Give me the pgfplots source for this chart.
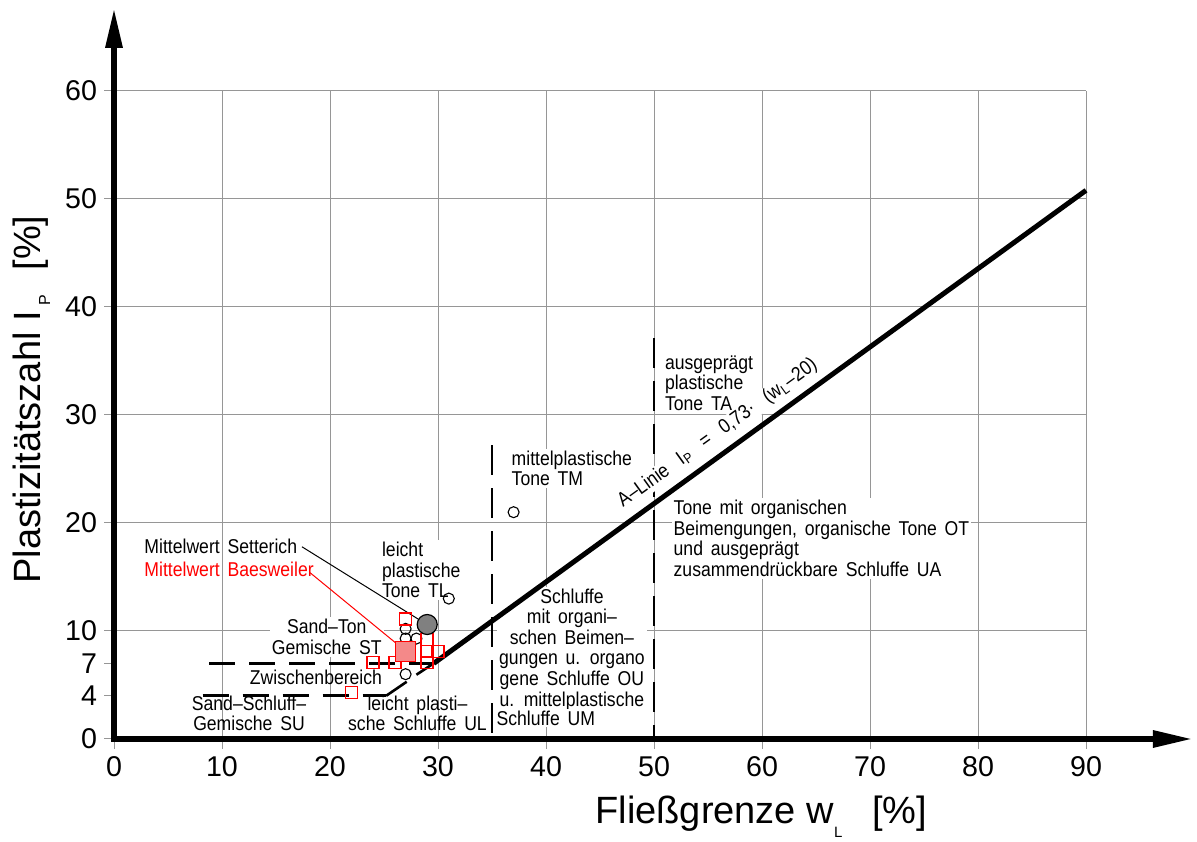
\documentclass[border=0pt]{standalone}
\usepackage{fontspec}
\setmainfont{Liberation Sans}
\newfontfamily\cad[FakeStretch=0.88,WordSpace=1.6]{Liberation Sans}
\usepackage{pgfplots}
\pgfplotsset{compat=1.18}
\usetikzlibrary{arrows.meta}
\definecolor{gridgray}{RGB}{150,150,150}
\definecolor{pinkfill}{RGB}{244,137,137}
\definecolor{meangray}{RGB}{128,128,128}
\tikzset{cadtext/.style={font=\fontsize{10}{10.3}\cad, inner sep=1pt}}
\begin{document}
\begin{tikzpicture}
\begin{axis}[
  scale only axis, width=486pt, height=324pt,
  xmin=0, xmax=90, ymin=0, ymax=60,
  axis line style={draw=none},
  clip=false,
  xtick={0,10,...,90},
  ytick={0,10,...,60},
  extra y ticks={4,7},
  extra y tick style={grid=none},
  xmajorgrids, ymajorgrids,
  grid style={gridgray, line width=0.5pt},
  tick align=outside,
  major tick length=5pt,
  tick style={gridgray, line width=0.5pt},
  xtick pos=left, ytick pos=left,
  /pgf/number format/assume math mode=true,
  ticklabel style={font=\fontsize{14.3}{16}\selectfont},
]
% text labels (white background hides grid)
\node[cadtext, anchor=west] at (axis cs:2.6,17.8) {Mittelwert Setterich};
\node[cadtext, anchor=west, text=red] at (axis cs:2.6,15.7) {Mittelwert Baesweiler};
\node[cadtext, anchor=west, align=left, fill=white] at (axis cs:24.6,15.65) {leicht\\plastische\\Tone TL};
\node[cadtext, align=center, fill=white] at (axis cs:19.7,9.44) {Sand–Ton\\Gemische ST};
\node[cadtext] at (axis cs:18.7,5.74) {Zwischenbereich};
\node[cadtext, align=center] at (axis cs:12.5,2.36) {Sand–Schluff–\\Gemische SU};
\node[cadtext, align=center] at (axis cs:28.1,2.36) {leicht plasti–\\sche Schluffe UL};
\node[cadtext, anchor=west, align=left, fill=white] at (axis cs:36.6,25.05) {mittelplastische\\Tone TM};
\node[cadtext, align=center, fill=white] at (axis cs:42.4,8.3) {Schluffe\\mit organi–\\schen Beimen–\\gungen u. organo\\gene Schluffe OU\\u. mittelplastische};
\node[cadtext, anchor=west, fill=white] at (axis cs:35.2,1.94) {Schluffe UM};
\node[cadtext, anchor=west, align=left, fill=white] at (axis cs:50.8,32.96) {ausgeprägt\\plastische\\Tone TA};
\node[cadtext, anchor=west, align=left, fill=white] at (axis cs:51.6,18.56) {Tone mit organischen\\Beimengungen, organische Tone OT\\und ausgeprägt\\zusammendrückbare Schluffe UA};

% boundary lines
\addplot[black, line width=1.5pt, dash pattern=on 13pt off 7pt] coordinates {(8.8,7) (29.6,7)};
\addplot[black, line width=1.5pt, dash pattern=on 13pt off 7pt] coordinates {(8.2,4) (25.2,4)};
\addplot[black, line width=1.4pt, dash pattern=on 15pt off 6.5pt] coordinates {(35,27.2) (35,0)};
\addplot[black, line width=1.4pt, dash pattern=on 15pt off 6.5pt] coordinates {(50,37.1) (50,0)};

% A-line label (covers the dashed line behind it)
\node[cadtext, rotate=35.7, fill=white, inner sep=0.5pt] at (axis cs:55.9,28.3)
  {A–Linie\hspace{3pt} I\textsubscript{P}\hspace{3pt} =\hspace{3pt} 0,73·\hspace{3pt} (w\textsubscript{L}–20)};

\addplot[black, line width=1.3pt] coordinates {(25.2,4) (27.1,5.3)};
\addplot[black, line width=1.3pt] coordinates {(28.0,5.95) (29.6,7)};
\addplot[black, line width=2.5pt] coordinates {(29.6,7) (90,50.8)};

% leader lines
\addplot[black, line width=0.5pt] coordinates {(17.4,17.8) (28.33,11.0)};
\addplot[red, line width=0.5pt] coordinates {(18.15,15.4) (26.2,8.8)};

% data: Setterich (circles)
\addplot[only marks, mark=o, mark size=2.75pt, mark options={black, line width=0.55pt}]
  coordinates {(27,10.2) (27,9.3) (28,9.3) (27,6) (31,13) (37,21)};
% data: Baesweiler (squares)
\addplot[only marks, mark=square, mark size=3pt, mark options={red, line width=0.8pt}]
  coordinates {(27,11.1) (29,9.2) (29,8.1) (30,8.1) (24,7.1) (26,7.1) (29,7.1) (22,4.3)};
% means
\addplot[only marks, mark=square*, mark size=5pt, mark options={draw=red, fill=pinkfill, line width=0.6pt}]
  coordinates {(27,8.1)};
\addplot[only marks, mark=*, mark size=5pt, mark options={draw=black, fill=meangray, line width=0.6pt}]
  coordinates {(29,10.6)};

% axes with arrows
\draw[line width=3pt, line join=miter, {Triangle[length=20pt,width=8pt]}-{Triangle[length=20pt,width=8pt]}]
  (axis cs:0,67.7) -- (axis cs:0,0) -- (axis cs:99.9,0);

% axis titles
\node[anchor=base west, font=\fontsize{19}{20}\selectfont, inner sep=0pt] at (axis cs:44.54,-7.87)
  {Fließgrenze w\raisebox{-7pt}{\fontsize{7.5}{8}\selectfont L}\hspace{15pt}[\%]};
\node[anchor=base west, rotate=90, font=\fontsize{19}{20}\selectfont, inner sep=0pt] at (axis cs:-6.85,14.35)
  {Plastizitätszahl I\hspace{3pt}\raisebox{-5pt}{\fontsize{8}{8}\selectfont P}\hspace{12pt}[\%]};

\coordinate (bl) at (axis cs:-10.556,-9.537);
\coordinate (tr) at (axis cs:100.278,68.426);
\end{axis}
\pgfresetboundingbox
\path[use as bounding box] (bl) rectangle (tr);
\end{tikzpicture}
\end{document}
